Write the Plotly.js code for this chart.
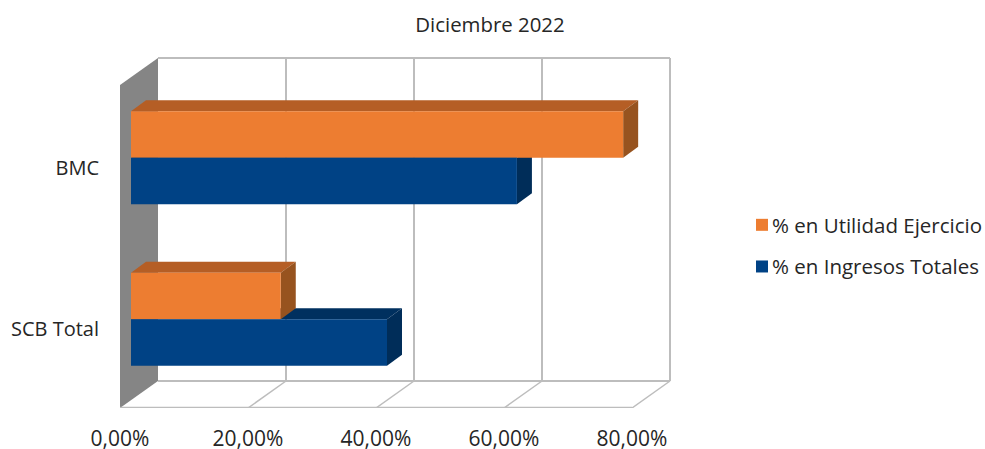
<!DOCTYPE html>
<html>
<head>
<meta charset="utf-8">
<script src="https://cdn.plot.ly/plotly-3.0.1.min.js"></script>
<style>html,body{margin:0;padding:0;background:#fff}</style>
</head>
<body>
<div id="chart" style="width:985px;height:449px"></div>
<script>
// Data
const categories = ['SCB Total', 'BMC'];
const ingresosTotales = [0.40, 0.603];
const utilidadEjercicio = [0.234, 0.769];
const xTicks = [0, 0.2, 0.4, 0.6, 0.8];
const xTickLabels = ['0,00%', '20,00%', '40,00%', '60,00%', '80,00%'];
const seriesNames = ['% en Utilidad Ejercicio', '% en Ingresos Totales'];
const chartTitle = 'Diciembre 2022';

// Pseudo-3D geometry
const PX_X = 640, PX_Y = 161.5;                 // pixels per axis unit
const WALL_DX = 38 / PX_X, WALL_DY = 27 / PX_Y;  // depth of the box
const BAR_X0 = 11 / PX_X, BAR_Y0 = 8 / PX_Y;     // bar offset into the box
const BAR_DX = 15 / PX_X, BAR_DY = 11 / PX_Y;    // bar depth
const BAR_H = 46.5 / PX_Y;
const X_RANGE = [0, 0.9], Y_RANGE = [0, 368 / PX_Y];
const xMax = xTicks[xTicks.length - 1];
const yMax = categories.length;
const catPos = categories.map((_, i) => i + 0.5);

const C = {
  orange: '#ED7D31', orangeTop: '#B55E25', orangeSide: '#97531F',
  blue: '#004285', blueTop: '#00305F', blueSide: '#002D59',
  wall: '#858585', grid: '#BDBDBD'
};

function poly(x, y, color) {
  return {type: 'scatter', mode: 'lines', x: x.concat(x[0]), y: y.concat(y[0]),
    fill: 'toself', fillcolor: color, line: {width: 0, color: color},
    showlegend: false, hoverinfo: 'skip'};
}
function line(x, y, width) {
  return {type: 'scatter', mode: 'lines', x: x, y: y,
    line: {color: C.grid, width: width},
    showlegend: false, hoverinfo: 'skip'};
}

const traces = [];
// left wall
traces.push(poly([0, WALL_DX, WALL_DX, 0], [0, WALL_DY, yMax + WALL_DY, yMax], C.wall));
// back wall grid lines
xTicks.forEach(t => {
  if (t > 0) traces.push(line([t + WALL_DX, t + WALL_DX], [WALL_DY, yMax + WALL_DY], 2));
  if (t > 0) traces.push(line([t, t + WALL_DX], [0, WALL_DY], 1.5));
});
traces.push(line([WALL_DX, xMax + WALL_DX], [yMax + WALL_DY, yMax + WALL_DY], 2));
traces.push(line([WALL_DX, xMax + WALL_DX], [WALL_DY, WALL_DY], 2));
traces.push(line([0, xMax], [0, 0], 2.5));

// 3D faces of a bar (top and right side)
function faces(values, yBottom, top, side) {
  values.forEach((v, i) => {
    const x1 = BAR_X0 + v, y0 = catPos[i] + BAR_Y0 + yBottom, y1 = y0 + BAR_H;
    traces.push(poly([BAR_X0, BAR_X0 + BAR_DX, x1 + BAR_DX, x1],
                     [y1, y1 + BAR_DY, y1 + BAR_DY, y1], top));
    traces.push(poly([x1, x1 + BAR_DX, x1 + BAR_DX, x1],
                     [y0, y0 + BAR_DY, y1 + BAR_DY, y1], side));
  });
}
faces(ingresosTotales, -BAR_H, C.blueTop, C.blueSide);
faces(utilidadEjercicio, 0, C.orangeTop, C.orangeSide);

// front faces, on an overlaying axis pair so they sit above the depth faces
function front(name, values, shift, color) {
  return {type: 'bar', orientation: 'h', name: name, xaxis: 'x2', yaxis: 'y2',
    x: values, y: catPos.map(p => p + BAR_Y0 + shift),
    base: values.map(() => BAR_X0), width: BAR_H,
    legendgroup: name, marker: {color: color, line: {width: 0}}};
}
traces.push(front(seriesNames[0], utilidadEjercicio, BAR_H / 2, C.orange));
traces.push(front(seriesNames[1], ingresosTotales, -BAR_H / 2, C.blue));

const FONT = '"Open Sans", sans-serif';
const layout = {
  width: 985, height: 449,
  margin: {l: 120, r: 289, t: 40, b: 41, autoexpand: false},
  paper_bgcolor: '#fff', plot_bgcolor: 'rgba(0,0,0,0)',
  font: {family: FONT, color: '#262626', size: 20},
  barmode: 'overlay',
  title: {text: chartTitle, x: 490 / 985, xanchor: 'center', y: 1 - 25 / 449, yanchor: 'middle',
          font: {family: FONT, size: 20.4, color: '#262626'}},
  xaxis: {range: X_RANGE, tickvals: xTicks, ticktext: xTickLabels, showgrid: false, zeroline: false,
          showline: false, ticks: '', ticklabelstandoff: 16, tickfont: {size: 21}},
  yaxis: {range: Y_RANGE, tickvals: catPos.map(p => p - 2 / PX_Y), ticktext: categories, showgrid: false,
          zeroline: false, showline: false, ticks: '', ticklabelstandoff: 20, tickfont: {size: 20}},
  xaxis2: {range: X_RANGE, overlaying: 'x', visible: false},
  yaxis2: {range: Y_RANGE, overlaying: 'y', visible: false},
  showlegend: true,
  legend: {x: (732 - 120) / 576, y: (408 - 246) / 368, xanchor: 'left', yanchor: 'middle',
           traceorder: 'grouped', tracegroupgap: 12, font: {family: FONT, size: 20.5, color: '#262626'},
           bgcolor: 'rgba(0,0,0,0)'}
};
Plotly.newPlot('chart', traces, layout, {displayModeBar: false, staticPlot: true}).then(() => {
  // tighten the gap between legend swatch and text, as in the reference
  document.querySelectorAll('.legendsymbols').forEach(g => g.setAttribute('transform', 'translate(10,0)'));
});
</script>
</body>
</html>
